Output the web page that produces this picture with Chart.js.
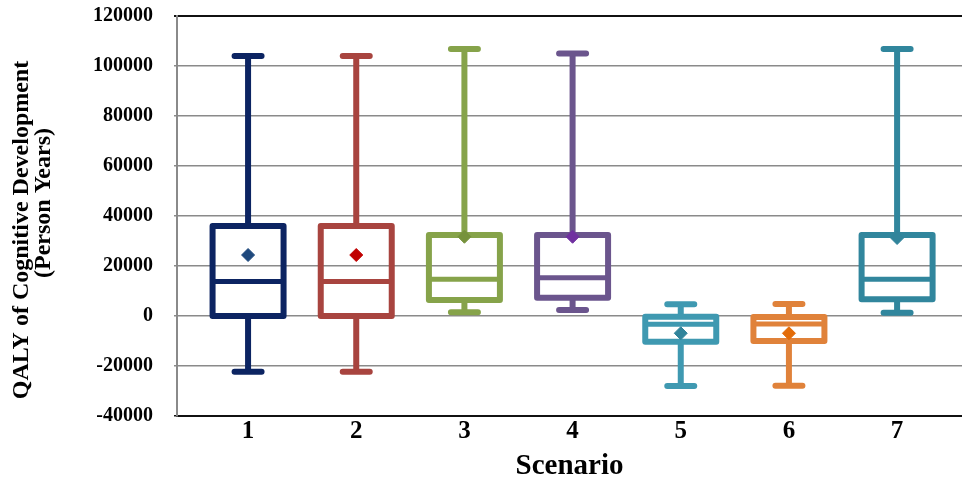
<!DOCTYPE html>
<html>
<head>
<meta charset="utf-8">
<script src="https://cdn.jsdelivr.net/npm/chart.js@4.4.0/dist/chart.umd.min.js"></script>
<style>
  html, body { margin: 0; padding: 0; background: #fff; }
  #wrap { width: 962px; height: 480px; }
</style>
</head>
<body>
<div id="wrap"><canvas id="myChart" width="962" height="480"></canvas></div>
<script>
// scenarios and box plot values
const scenarios = [1, 2, 3, 4, 5, 6, 7];
const maxVals = [104000, 104000, 106800, 105000, 4700, 4800, 106800];
const q3Vals = [36000, 36000, 32400, 32400, -300, -400, 32400];
const medianVals = [13800, 13800, 14700, 15300, -3300, -3200, 14700];
const q1Vals = [0, 0, 6400, 7300, -10300, -10000, 6700];
const minVals = [-22300, -22300, 1500, 2400, -28000, -27900, 1300];
const meanVals = [24400, 24400, 31700, 31700, -6900, -6900, 31200];
const yTicks = [-40000, -20000, 0, 20000, 40000, 60000, 80000, 100000, 120000];

const boxColors = ['#0c2462', '#a8443f', '#86a34a', '#6b558d', '#3f99b1', '#e0823a', '#31869d'];
const meanColors = ['#1f497d', '#c00000', '#76923c', '#7030a0', '#31849b', '#e36c09', '#31849b'];

const serif = '"Liberation Serif", "Times New Roman", serif';

// boxes, whiskers, caps and medians drawn through the chart scales
const boxplot = {
    id: 'boxplot',
    beforeDatasetsDraw(chart){
        const ctx = chart.ctx;
        const x = chart.scales.x;
        const y = chart.scales.y;
        ctx.save();
        scenarios.forEach((s, i) => {
            const cx = x.getPixelForValue(s);
            const half = 35.5;
            ctx.strokeStyle = boxColors[i];
            ctx.lineWidth = 6;
            // whiskers
            ctx.lineCap = 'butt';
            ctx.beginPath();
            ctx.moveTo(cx, y.getPixelForValue(maxVals[i]));
            ctx.lineTo(cx, y.getPixelForValue(q3Vals[i]));
            ctx.moveTo(cx, y.getPixelForValue(q1Vals[i]));
            ctx.lineTo(cx, y.getPixelForValue(minVals[i]));
            ctx.stroke();
            // caps
            ctx.lineCap = 'round';
            ctx.beginPath();
            [maxVals[i], minVals[i]].forEach(v => {
                ctx.moveTo(cx - 13.5, y.getPixelForValue(v));
                ctx.lineTo(cx + 13.5, y.getPixelForValue(v));
            });
            ctx.stroke();
            // box
            const top = y.getPixelForValue(q3Vals[i]);
            const bot = y.getPixelForValue(q1Vals[i]);
            ctx.lineJoin = 'round';
            ctx.strokeRect(cx - half, top, half * 2, bot - top);
            // median
            ctx.lineCap = 'butt';
            ctx.lineWidth = 5;
            ctx.beginPath();
            ctx.moveTo(cx - half, y.getPixelForValue(medianVals[i]));
            ctx.lineTo(cx + half, y.getPixelForValue(medianVals[i]));
            ctx.stroke();
        });
        ctx.restore();
    },
    afterDraw(chart){
        // y axis title, two lines
        const ctx = chart.ctx;
        ctx.save();
        ctx.fillStyle = '#000';
        ctx.font = 'bold 24px ' + serif;
        ctx.textAlign = 'center';
        ctx.textBaseline = 'middle';
        ctx.translate(22, 230);
        ctx.rotate(-Math.PI / 2);
        ctx.fillText('QALY of Cognitive Development', 0, 0);
        ctx.fillText('(Person Years)', 27, 22);
        ctx.restore();
    }
};

new Chart(document.getElementById('myChart'), {
    type: 'scatter',
    data: {
        datasets: [{
            label: 'Mean',
            data: scenarios.map((s, i) => ({x: s, y: meanVals[i]})),
            pointStyle: 'rectRot',
            pointRadius: 6.5,
            backgroundColor: meanColors,
            borderColor: meanColors,
            borderWidth: 1
        }]
    },
    options: {
        responsive: false,
        animation: false,
        events: [],
        layout: { autoPadding: false, padding: { top: 16, right: 0, left: 0, bottom: 0 } },
        plugins: {
            legend: { display: false },
            tooltip: { enabled: false }
        },
        scales: {
            x: {
                type: 'linear',
                min: 0.343,
                max: 7.6,
                offset: false,
                afterFit: (scale) => {
                    scale.height = 64;
                    scale.paddingLeft = 0;
                    scale.paddingRight = 0;
                },
                afterBuildTicks: (scale) => { scale.ticks = scenarios.map(v => ({value: v})); },
                grid: { display: false, drawTicks: false },
                border: { color: '#111', width: 2 },
                ticks: {
                    color: '#000',
                    padding: 1,
                    font: { family: serif, size: 25, weight: 'bold' },
                    callback: (v) => String(v)
                },
                title: {
                    display: true,
                    text: 'Scenario',
                    color: '#000',
                    padding: { top: 0, bottom: 0 },
                    font: { family: serif, size: 29, weight: 'bold', lineHeight: 0.9 }
                }
            },
            y: {
                min: -40000,
                max: 120000,
                afterFit: (scale) => {
                    scale.width = 177;
                    scale.paddingTop = 0;
                    scale.paddingBottom = 0;
                },
                afterBuildTicks: (scale) => { scale.ticks = yTicks.map(v => ({value: v})); },
                grid: {
                    color: (c) => (c.tick && (c.tick.value === 120000 || c.tick.value === -40000)) ? '#111' : '#8a8a8a',
                    lineWidth: (c) => (c.tick && c.tick.value === 120000) ? 2 : 1.5,
                    drawTicks: true,
                    tickLength: 3
                },
                border: { color: '#8a8a8a', width: 2 },
                ticks: {
                    color: '#000',
                    padding: 21,
                    font: { family: serif, size: 20, weight: 'bold' },
                    callback: (v) => String(v)
                }
            }
        }
    },
    plugins: [boxplot]
});
</script>
</body>
</html>
